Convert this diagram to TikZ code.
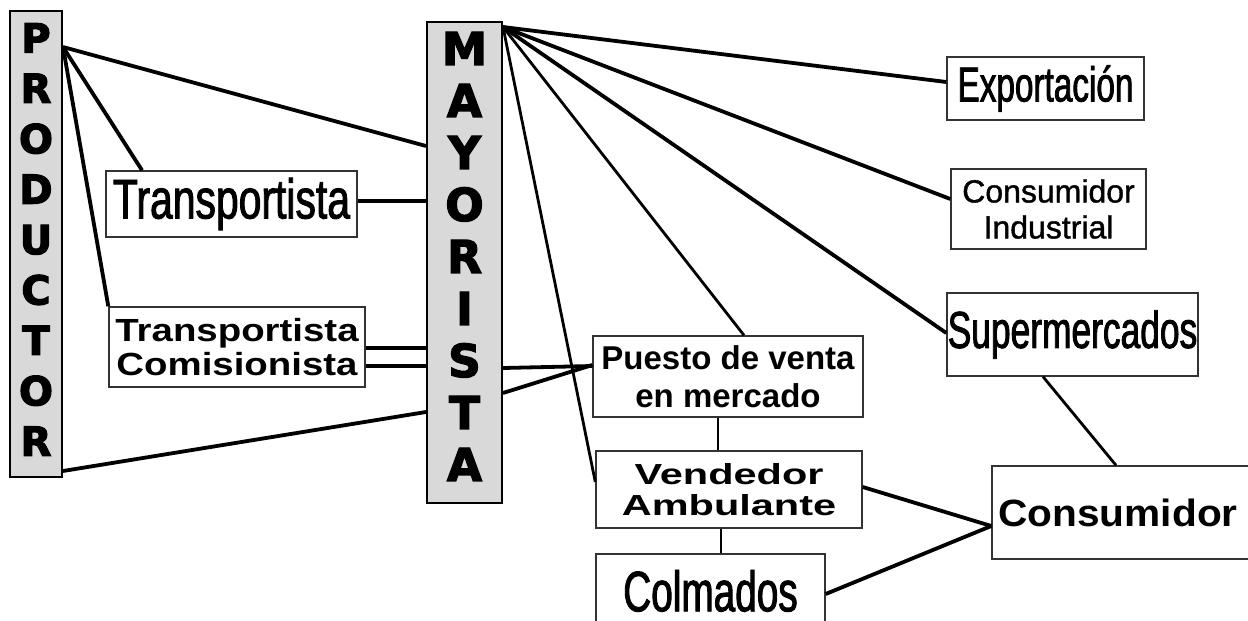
\documentclass[tikz,border=0pt]{standalone}
\usepackage{fontspec}
\setmainfont{Liberation Sans}
\newfontfamily\fNarrow[FakeStretch=0.68,FakeBold=1.6]{Liberation Sans}
\newfontfamily\fNarrowT[FakeStretch=0.73,FakeBold=1.6]{Liberation Sans}
\newfontfamily\fReg[FakeBold=1.2]{Liberation Sans}
\newfontfamily\fWideTC[FakeStretch=1.2]{Liberation Sans}
\newfontfamily\fWideV[FakeStretch=1.43]{Liberation Sans}
\newfontfamily\fWideC[FakeStretch=1.07]{Liberation Sans}
\newfontfamily\fBlack[FakeBold=3]{DejaVu Sans}
\definecolor{boxgray}{RGB}{217,217,217}
\begin{document}
\begin{tikzpicture}[x=0.5pt,y=-0.5pt,
  vbox/.style={draw=black, line width=1pt, fill=boxgray, inner sep=0pt},
  lbox/.style={draw=black!80, line width=0.7pt, fill=white, inner sep=0pt, align=center},
  conn/.style={line width=1.9pt, line join=round},
  thinconn/.style={line width=1.4pt}]
\useasboundingbox (0,0) rectangle (1248,621);
\clip (0,0) rectangle (1248,621);
\fill[white] (0,0) rectangle (1248,621);

\node[vbox, minimum width=26pt, minimum height=233pt,
  font=\fBlack\bfseries\fontsize{20pt}{25.2pt}\selectfont] (prod) at (36,244)
  {\begin{tabular}{@{}c@{}}P\\R\\O\\D\\U\\C\\T\\O\\R\end{tabular}};
\node[vbox, minimum width=37.5pt, minimum height=240.5pt,
  font=\fBlack\bfseries\fontsize{22.6pt}{26pt}\selectfont] (may) at (464.5,262.5)
  {\begin{tabular}{@{}c@{}}M\\A\\Y\\O\\R\\I\\S\\T\\A\end{tabular}};

\node[lbox, minimum width=125.5pt, minimum height=33pt,
  font=\fNarrowT\fontsize{28pt}{30pt}\selectfont] (tr) at (231.5,204) {Transportista};
\node[lbox, minimum width=128pt, minimum height=40pt,
  font=\fWideTC\bfseries\fontsize{16pt}{17pt}\selectfont] (tc) at (237,347) {Transportista\\Comisionista};

\node[lbox, minimum width=98.5pt, minimum height=31.5pt,
  font=\fNarrow\fontsize{24.5pt}{26pt}\selectfont] (exp) at (1045.5,88.5) {\raisebox{2pt}{Exportación}};
\node[lbox, minimum width=97.5pt, minimum height=40pt,
  font=\fReg\fontsize{16pt}{18pt}\selectfont] (ci) at (1048.5,209) {Consumidor\\Industrial};
\node[lbox, minimum width=125.5pt, minimum height=41.5pt,
  font=\fNarrow\fontsize{26pt}{28pt}\selectfont] (sup) at (1072.5,334.5) {Supermercados};

\node[lbox, minimum width=135pt, minimum height=40.5pt,
  font=\bfseries\fontsize{16.5pt}{19pt}\selectfont] (pue) at (728,376.5) {Puesto de venta\\en mercado};
\node[lbox, minimum width=133pt, minimum height=38.5pt,
  font=\fWideV\bfseries\fontsize{14.5pt}{15.5pt}\selectfont] (ven) at (729,489.5) {Vendedor\\Ambulante};
\node[lbox, minimum width=114.5pt, minimum height=43pt,
  font=\fNarrow\fontsize{28.5pt}{30pt}\selectfont] (col) at (710.5,597) {\raisebox{6.4pt}{Colmados}};
\node[lbox, minimum width=134pt, minimum height=46.5pt,
  font=\fWideC\bfseries\fontsize{19pt}{20pt}\selectfont] (cons) at (1126,512.5) {Consumidor\hspace*{8pt}};

% connectors from PRODUCTOR
\coordinate (ph) at (prod.east |- 0,47);
\draw[conn] (ph) -- (may.west |- 0,146);
\draw[conn] (ph) -- (tr.north -| 142,0);
\draw[conn] (ph) -- (tc.north west);
\draw[conn] (prod.east |- 0,471) -- (may.west |- 0,412);
\draw[conn] (tr.east |- 0,201) -- (may.west |- 0,201);
\draw[conn] (tc.east |- 0,348) -- (may.west |- 0,348);
\draw[conn] (tc.east |- 0,366) -- (may.west |- 0,366);
% connectors from MAYORISTA
\draw[conn] (may.east |- 0,368) -- (pue.west |- 0,366);
\draw[conn] (may.east |- 0,393) -- (pue.west |- 0,365);
\coordinate (mh) at (may.east |- 0,27);
\draw[conn] (mh) -- (exp.west |- 0,82);
\draw[conn] (mh) -- (ci.west |- 0,199);
\draw[conn] (mh) -- (sup.west |- 0,333);
\draw[thinconn] (mh) -- (pue.north -| 744,0);
\draw[thinconn] (mh) -- (ven.west |- 0,482);
% lower connectors
\draw[thinconn] (pue.south -| 718,0) -- (ven.north -| 718,0);
\draw[thinconn] (ven.south -| 721,0) -- (col.north -| 721,0);
\draw[thinconn] (sup.south -| 1043,0) -- (cons.north -| 1116,0);
\draw[conn] (ven.east |- 0,487) -- (cons.west |- 0,526);
\draw[conn] (col.east |- 0,594) -- (cons.west |- 0,526);
\end{tikzpicture}
\end{document}
